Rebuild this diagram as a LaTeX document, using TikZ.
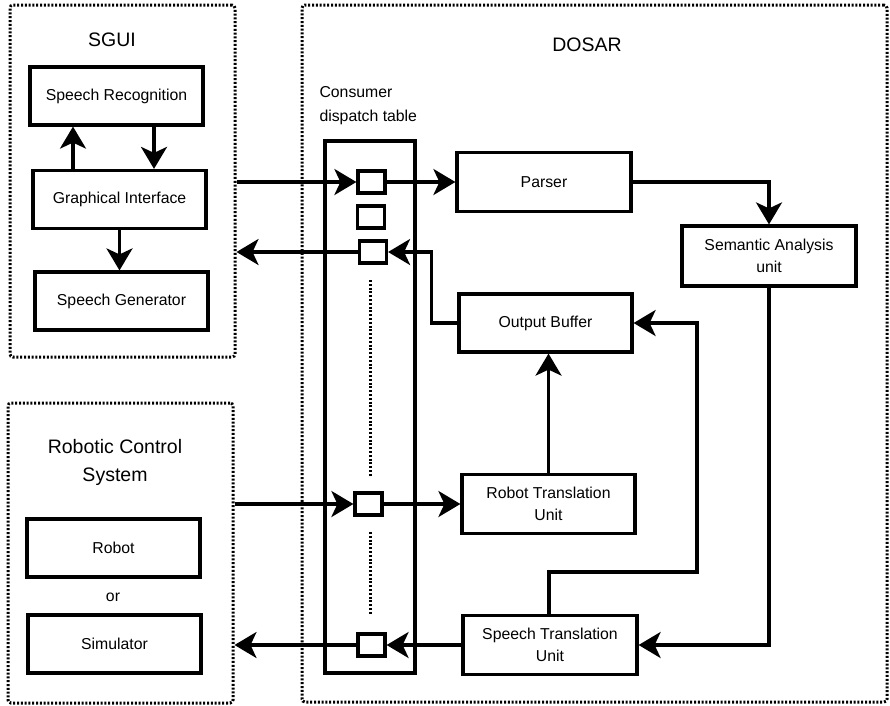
\documentclass[tikz,border=0pt]{standalone}
\usepackage{fontspec}
\setmainfont{Liberation Sans}
\usetikzlibrary{arrows.meta}
\begin{document}
\begin{tikzpicture}[x=1pt,y=-1pt,
  box/.style={draw, line width=3.2pt, minimum width=173pt, minimum height=58pt,
    inner sep=0pt, font=\fontsize{15.8}{21.5}\selectfont, align=center},
  slot/.style={draw, line width=3.2pt, minimum width=27pt, minimum height=22pt, inner sep=0pt},
  group/.style={draw, line width=3pt, dash pattern=on 2pt off 1.8pt, rounded corners=3pt,
    inner sep=0pt},
  dotline/.style={line width=3pt, dash pattern=on 2pt off 1.8pt},
  conn/.style={line width=3.2pt, -{Stealth[length=22pt,width=26pt,inset=6pt]}},
  title/.style={font=\fontsize{19.5}{28}\selectfont, align=center},
  note/.style={font=\fontsize{15.8}{24}\selectfont, align=left}
]
\useasboundingbox (0,0) rectangle (890,705);

% dotted group frames
\node[group, minimum width=225pt, minimum height=352pt] (sgui) at (122.5,181) {};
\node[group, minimum width=225pt, minimum height=300pt] (rcs) at (120.5,553) {};
\node[group, minimum width=585pt, minimum height=697pt] (dosar) at (594.5,353.5) {};

% group titles
\node[title] at (112,40) {SGUI};
\node[title] at (587,45) {DOSAR};
\node[title] at (115,462) {Robotic Control\\System};
\node[note, anchor=west] at (316,106) {Consumer\\dispatch table};

% SGUI blocks
\node[box] (sr) at (116.5,96) {Speech Recognition};
\node[box] (gi) at (119.5,199.5) {Graphical Interface};
\node[box] (sg) at (121.5,301) {Speech Generator};

% robotic control blocks
\node[box] (robot) at (113.5,548) {Robot};
\node[font=\fontsize{15.8}{19}\selectfont] at (113,597) {or};
\node[box] (sim) at (114.5,644) {Simulator};

% consumer dispatch table and its slots
\node[draw, line width=3.2pt, minimum width=90pt, minimum height=532pt, inner sep=0pt] (table) at (370,407) {};
\node[slot] (b1) at (371.5,182) {};
\node[slot] (b2) at (371,217) {};
\node[slot] (b3) at (373,252) {};
\node[slot] (b4) at (368.5,504) {};
\node[slot] (b5) at (371.5,645) {};
\draw[dotline] (370,280) -- (370,477);
\draw[dotline] (370,532) -- (370,615);

% DOSAR blocks
\node[box, minimum width=174pt, minimum height=59pt] (parser) at (544,182) {Parser};
\node[box, minimum width=174pt, minimum height=60pt] (sem) at (769,256) {Semantic Analysis\\unit};
\node[box] (ob) at (545.5,323) {Output Buffer};
\node[box, minimum height=59pt] (rtu) at (548.5,504) {Robot Translation\\Unit};
\node[box, minimum width=174pt, minimum height=59pt] (stu) at (550,645) {Speech Translation\\Unit};

% SGUI internal connectors
\draw[conn] ([xshift=-46.5pt]gi.north) -- ([xshift=-46.5pt]gi.north |- sr.south);
\draw[conn] ([xshift=37.5pt]sr.south) -- ([xshift=37.5pt]sr.south |- gi.north);
\draw[conn] (gi.south) -- (gi.south |- sg.north);

% SGUI <-> dispatch table
\draw[conn] (sgui.east |- b1.west) -- (b1.west);
\draw[conn] (b3.west) -- (sgui.east |- b3.west);

% DOSAR pipeline
\draw[conn] (b1.east) -- (parser.west);
\draw[conn] (parser.east) -| (sem.north);
\draw[conn] (sem.south) |- (stu.east);
\draw[conn] (ob.west) -- ++(-26,0) |- (b3.east);
\coordinate (loop) at (697,572);
\draw[conn] ([xshift=-1pt]stu.north) |- (loop) |- (ob.east);
\draw[conn] (rtu.north) -- (rtu.north |- ob.south);

% robotic control <-> dispatch table
\draw[conn] (rcs.east |- b4.west) -- (b4.west);
\draw[conn] (b4.east) -- (rtu.west);
\draw[conn] (stu.west) -- (b5.east);
\draw[conn] (b5.west) -- (rcs.east |- b5.west);
\end{tikzpicture}
\end{document}
